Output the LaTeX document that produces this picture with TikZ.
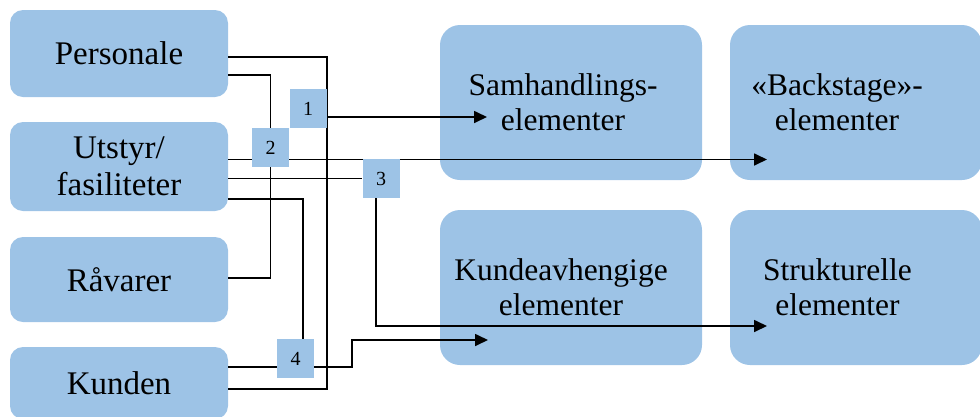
\documentclass[tikz,border=0pt]{standalone}
\usepackage{fontspec}
\setmainfont{Liberation Serif}
\usetikzlibrary{arrows.meta}
\definecolor{boxblue}{HTML}{9DC3E6}
\pgfdeclarelayer{front}
\pgfsetlayers{main,front}
\begin{document}
\begin{tikzpicture}[x=1pt,y=-1pt,
  srcbox/.style={fill=boxblue, rounded corners=13pt, minimum width=218pt, inner sep=0pt,
    font=\fontsize{33}{37}\selectfont, align=center},
  goalbox/.style={fill=boxblue, rounded corners=20pt, inner sep=0pt,
    minimum height=155pt},
  goaltext/.style={font=\fontsize{31.5}{35}\selectfont, align=center, inner sep=0pt},
  numbox/.style={fill=boxblue, minimum width=37pt, minimum height=39pt, inner sep=0pt,
    font=\fontsize{20}{20}\selectfont},
  link/.style={draw=black, line width=1.7pt},
  flow/.style={link, -{Triangle[length=13pt,width=12pt]}}]
\useasboundingbox (0,0) rectangle (980,416);
\clip (0,0) rectangle (980,416);

% resources on the left
\node[srcbox, minimum height=87pt] (pers) at (119,53.5) {Personale};
\node[srcbox, minimum height=89pt] (utst) at (119,166.5) {Utstyr/\\fasiliteter};
\node[srcbox, minimum height=85pt] (raav) at (119,279.5) {Råvarer};
\node[srcbox, minimum height=72pt] (kund) at (119,383) {Kunden};

% element groups on the right
\node[goalbox, minimum width=262pt] (samh) at (571,102.5) {};
\node[goalbox, minimum width=252pt] (back) at (856,102.5) {};
\node[goalbox, minimum width=262pt] (kavh) at (571,287.5) {};
\node[goalbox, minimum width=252pt] (strk) at (856,287.5) {};
\node[goaltext] (samh-t) at (563,102.5) {Samhandlings-\\elementer};
\node[goaltext] (back-t) at (837,102.5) {«Backstage»-\\elementer};
\node[goaltext] (kavh-t) at (561,287.5) {Kundeavhengige\\elementer};
\node[goaltext] (strk-t) at (837.5,287.5) {Strukturelle\\elementer};

% numbered junctions, kept above the lines
\begin{pgfonlayer}{front}
\node[numbox] (n1) at (308,108.5) {1};
\node[numbox] (n2) at (270.5,147.5) {2};
\node[numbox] (n3) at (381,178.5) {3};
\node[numbox] (n4) at (295.5,358.5) {4};
\end{pgfonlayer}

% arrow ends inside the target boxes
\coordinate (t1) at (487,117);
\coordinate (t2) at (767,159.5);
\coordinate (t3) at (767,326);
\coordinate (t4) at (488,340);

% connectors
\draw[link] (pers.east |- 0,57) -| (n1.east |- 0,389) -- (kund.east |- 0,389);
\draw[flow] (n1.east |- t1) -- (t1);
\draw[link] (pers.east |- 0,75) -| (n2 |- 0,278) -- (raav.east |- 0,278);
\draw[flow] (utst.east |- t2) -- (t2);
\draw[link] (utst.east |- n3.west) -- (n3.west);
\draw[flow] ([xshift=-5pt]n3.south) |- (t3);
\draw[link] (utst.east |- 0,199) -| ([xshift=7.5pt]n4.north);
\draw[flow] (kund.east |- 0,367) -| (352,0 |- t4) -- (t4);
\end{tikzpicture}
\end{document}
